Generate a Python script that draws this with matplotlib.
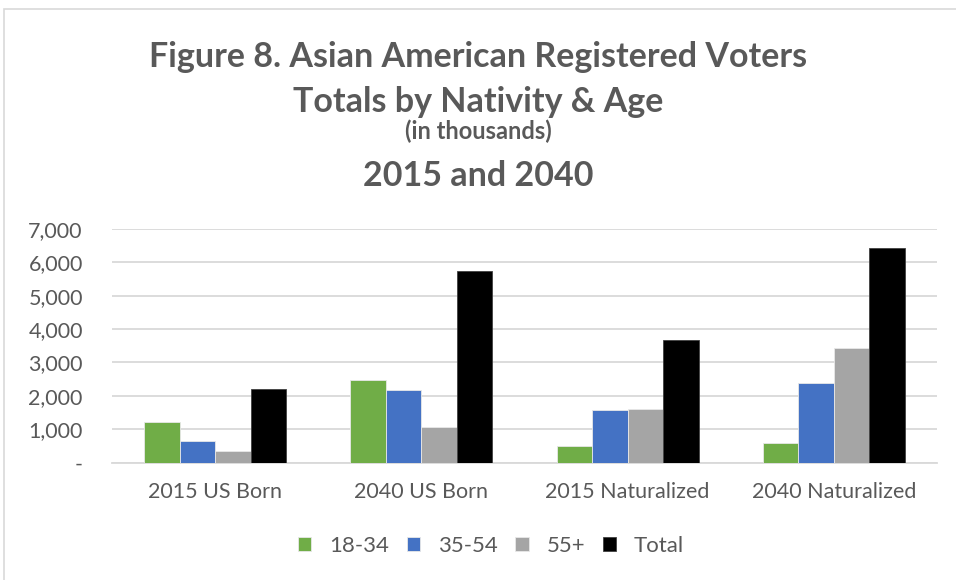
import numpy as np
import matplotlib.pyplot as plt
from matplotlib.patches import Rectangle

categories = ['2015 US Born', '2040 US Born', '2015 Naturalized', '2040 Naturalized']
age_18_34 = [1210, 2480, 490, 580]
age_35_54 = [630, 2160, 1580, 2390]
age_55_up = [340, 1070, 1590, 3440]
total = [2210, 5750, 3680, 6430]
series_names = ['18-34', '35-54', '55+', 'Total']
series_colors = ['#70AD47', '#4472C4', '#A5A5A5', '#000000']
yticks = [0, 1000, 2000, 3000, 4000, 5000, 6000, 7000]
ytick_labels = ['-', '1,000', '2,000', '3,000', '4,000', '5,000', '6,000', '7,000']

plt.rcParams['font.family'] = ['Lato', 'DejaVu Sans']
text_col = '#595959'

W, H = 956, 580
fig = plt.figure(figsize=(W / 100, H / 100), dpi=100)
ax = fig.add_axes([112 / W, 1 - 462.5 / H, (937 - 112) / W, (462.5 - 229) / H])

# chart frame (right and bottom edges lie outside the picture)
fig.patches.append(Rectangle((4 / W, -0.1), 1.0, 1 - 9 / H + 0.1,
                             transform=fig.transFigure, fill=False,
                             edgecolor='#d9d9d9', linewidth=1.2))

x = np.arange(len(categories))
bw = 0.172
data = [age_18_34, age_35_54, age_55_up, total]
for i, (vals, name, col) in enumerate(zip(data, series_names, series_colors)):
    ax.bar(x + (i - 1.5) * bw, vals, width=bw, color=col, label=name,
           edgecolor='#e8e8e8' if col != '#000000' else '#404040', linewidth=0.6, zorder=3)

ax.set_xlim(-0.5, len(categories) - 0.5)
ax.set_ylim(0, 7000)
ax.set_yticks(yticks)
ax.set_yticklabels(ytick_labels)
ax.set_xticks(x)
ax.set_xticklabels(categories)
ax.grid(axis='y', color='#d9d9d9', linewidth=1.3, zorder=0)
for s in ['top', 'right', 'left']:
    ax.spines[s].set_visible(False)
ax.spines['bottom'].set_color('#d9d9d9')
ax.spines['bottom'].set_linewidth(1.3)
ax.tick_params(axis='both', length=0, labelsize=15.5, labelcolor=text_col)
ax.tick_params(axis='y', pad=21)
ax.tick_params(axis='x', pad=14)

fig.text(0.5, 1 - 57 / H, 'Figure 8. Asian American Registered Voters', ha='center', va='center',
         fontsize=24.5, fontweight='bold', color=text_col)
fig.text(0.5, 1 - 102 / H, 'Totals by Nativity & Age', ha='center', va='center',
         fontsize=24.5, fontweight='bold', color=text_col)
fig.text(0.5, 1 - 131 / H, '(in thousands)', ha='center', va='center',
         fontsize=17, fontweight='bold', color=text_col)
fig.text(0.5, 1 - 176 / H, '2015 and 2040', ha='center', va='center',
         fontsize=24.5, fontweight='bold', color=text_col)

ax.legend(loc='center', bbox_to_anchor=(491 / W, 1 - 546 / H), bbox_transform=fig.transFigure,
          ncol=4, frameon=False, fontsize=16, labelcolor=text_col, handlelength=0.6,
          handleheight=0.6, columnspacing=0.8, handletextpad=0.8)

fig.savefig('out.png', dpi=100)
